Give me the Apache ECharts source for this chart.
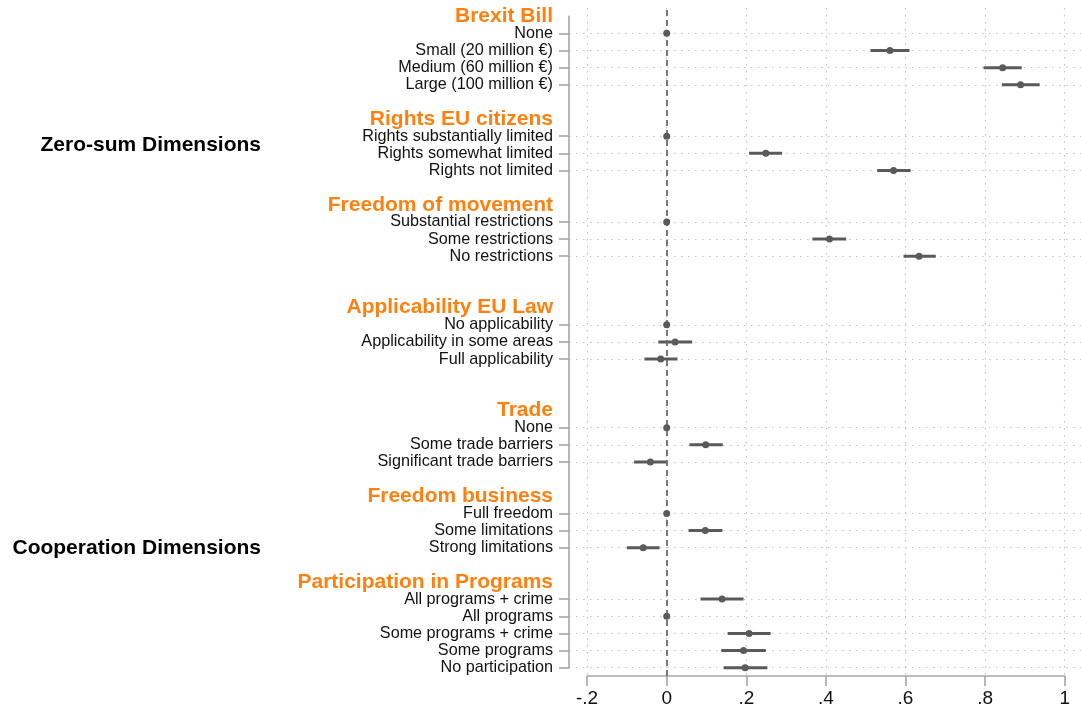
<!DOCTYPE html>
<html>
<head>
<meta charset="utf-8">
<style>
  html, body { margin: 0; padding: 0; background: #fff; }
  #chart { width: 1081px; height: 713px; }
</style>
<script src="https://cdn.jsdelivr.net/npm/echarts@6/dist/echarts.min.js"></script>
</head>
<body>
<div id="chart"></div>
<script>
// Attribute groups and their levels (top to bottom)
const groups = ['Brexit Bill', 'Rights EU citizens', 'Freedom of movement', 'Applicability EU Law',
                'Trade', 'Freedom business', 'Participation in Programs'];
const levels = [
  ['None', 'Small (20 million €)', 'Medium (60 million €)', 'Large (100 million €)'],
  ['Rights substantially limited', 'Rights somewhat limited', 'Rights not limited'],
  ['Substantial restrictions', 'Some restrictions', 'No restrictions'],
  ['No applicability', 'Applicability in some areas', 'Full applicability'],
  ['None', 'Some trade barriers', 'Significant trade barriers'],
  ['Full freedom', 'Some limitations', 'Strong limitations'],
  ['All programs + crime', 'All programs', 'Some programs + crime', 'Some programs', 'No participation']
];
// Point estimates and 95% interval bounds, per level
const estimates = [
  [0, 0.561, 0.844, 0.889],
  [0, 0.249, 0.570],
  [0, 0.409, 0.634],
  [0, 0.021, -0.015],
  [0, 0.098, -0.041],
  [0, 0.097, -0.059],
  [0.139, 0, 0.207, 0.193, 0.197]
];
const lower = [
  [0, 0.512, 0.796, 0.842],
  [0, 0.207, 0.529],
  [0, 0.366, 0.595],
  [0, -0.021, -0.056],
  [0, 0.057, -0.082],
  [0, 0.055, -0.100],
  [0.085, 0, 0.153, 0.137, 0.143]
];
const upper = [
  [0, 0.610, 0.892, 0.937],
  [0, 0.290, 0.613],
  [0, 0.451, 0.676],
  [0, 0.064, 0.027],
  [0, 0.141, -0.001],
  [0, 0.140, -0.018],
  [0.193, 0, 0.261, 0.249, 0.253]
];
const dimensionLabels = ['Zero-sum Dimensions', 'Cooperation Dimensions'];
const xTickValues = [-0.2, 0, 0.2, 0.4, 0.6, 0.8, 1];
const xTickLabels = ['-.2', '0', '.2', '.4', '.6', '.8', '1'];
const referenceValue = 0;

// Empty rows placed after each group
const spacerRows = [1, 1, 2, 2, 1, 1, 0];

// Build the row list: header row, level rows, spacer rows
const rows = [];
groups.forEach((g, gi) => {
  rows.push({ kind: 'header', text: g });
  levels[gi].forEach((lv, li) => {
    rows.push({ kind: 'item', text: lv, est: estimates[gi][li], lo: lower[gi][li], hi: upper[gi][li] });
  });
  for (let s = 0; s < spacerRows[gi]; s++) rows.push({ kind: 'blank', text: '' });
});
const rowKeys = rows.map((r, i) => 'r' + i);

const pointData = [];
const barData = [];
rows.forEach((r, i) => {
  if (r.kind === 'item') {
    pointData.push([r.est, i]);
    barData.push([r.lo, i, r.hi]);
  }
});

const FONT = '"Liberation Sans", Arial, Helvetica, sans-serif';
const MARK = '#5a5a5a';
const AXIS = '#a6a6a6';
const GRIDC = '#c4c4c4';
const DOTS = [1.5, 5.5];

const chart = echarts.init(document.getElementById('chart'), null, { renderer: 'canvas' });

const option = {
  backgroundColor: '#ffffff',
  animation: false,
  textStyle: { fontFamily: FONT },
  grid: [
    { left: 569, right: 0, top: 16.2, bottom: 45.3 },
    { left: 587.1, width: 477.6, top: 8, bottom: 37 }
  ],
  xAxis: [
    { gridIndex: 0, type: 'value', min: -0.2455, max: 1.0409, show: false },
    {
      gridIndex: 1, type: 'value', min: -0.2, max: 1, interval: 0.2, position: 'bottom',
      axisLine: { show: true, onZero: false, lineStyle: { color: AXIS, width: 1.6 } },
      axisTick: { show: true, length: 10, lineStyle: { color: AXIS, width: 1.6 } },
      axisLabel: {
        fontSize: 19, color: '#111', margin: 13, fontFamily: FONT,
        formatter: v => {
          const k = xTickValues.findIndex(t => Math.abs(t - v) < 1e-9);
          return k >= 0 ? xTickLabels[k] : '';
        }
      },
      splitLine: { show: true, lineStyle: { color: GRIDC, type: DOTS, width: 1.2 } }
    }
  ],
  yAxis: [
    {
      gridIndex: 0, type: 'category', data: rowKeys, inverse: true, boundaryGap: false, position: 'left',
      axisLine: { show: true, onZero: false, lineStyle: { color: AXIS, width: 1.6 } },
      axisTick: {
        show: true, length: 10,
        interval: (idx) => rows[idx].kind === 'item',
        lineStyle: { color: AXIS, width: 1.6 }
      },
      splitLine: {
        show: true,
        interval: (idx) => rows[idx].kind === 'item',
        lineStyle: { color: GRIDC, type: DOTS, width: 1.2 }
      },
      axisLabel: {
        interval: 0, margin: 16,
        formatter: (val, idx) => {
          const r = rows[idx];
          if (r.kind === 'header') return '{h|' + r.text + '}';
          if (r.kind === 'item') return '{i|' + r.text + '}';
          return '';
        },
        rich: {
          h: { fontSize: 21, fontWeight: 'bold', color: '#ff800e', fontFamily: FONT },
          i: { fontSize: 16.2, color: '#111', fontFamily: FONT }
        }
      }
    },
    { gridIndex: 1, type: 'value', min: 0, max: 1, show: false }
  ],
  graphic: [
    { type: 'text', style: { text: dimensionLabels[0], x: 261, y: 145, align: 'right', verticalAlign: 'middle', font: 'bold 21px ' + FONT, fill: '#000' } },
    { type: 'text', style: { text: dimensionLabels[1], x: 261, y: 548, align: 'right', verticalAlign: 'middle', font: 'bold 21px ' + FONT, fill: '#000' } }
  ],
  series: [
    {
      // reference line at zero, spanning the full plot height
      type: 'scatter', xAxisIndex: 1, yAxisIndex: 1, data: [], silent: true,
      markLine: {
        silent: true, symbol: 'none', label: { show: false },
        lineStyle: { color: '#6a6a6a', type: [6, 4], width: 1.8 },
        data: [{ xAxis: referenceValue }]
      },
      z: 3
    },
    {
      // confidence interval bars
      type: 'custom', xAxisIndex: 0, yAxisIndex: 0, data: barData, silent: true, z: 4,
      encode: { x: [0, 2], y: 1 },
      renderItem: (params, api) => {
        const y = api.value(1);
        const a = api.coord([api.value(0), y]);
        const b = api.coord([api.value(2), y]);
        return {
          type: 'line',
          shape: { x1: a[0], y1: a[1], x2: b[0], y2: b[1] },
          style: { stroke: MARK, lineWidth: 3 }
        };
      }
    },
    {
      // point estimates
      type: 'scatter', xAxisIndex: 0, yAxisIndex: 0, data: pointData, silent: true, z: 5,
      symbol: 'circle', symbolSize: 7,
      itemStyle: { color: MARK, opacity: 1 }
    }
  ]
};
chart.setOption(option);
</script>
</body>
</html>
